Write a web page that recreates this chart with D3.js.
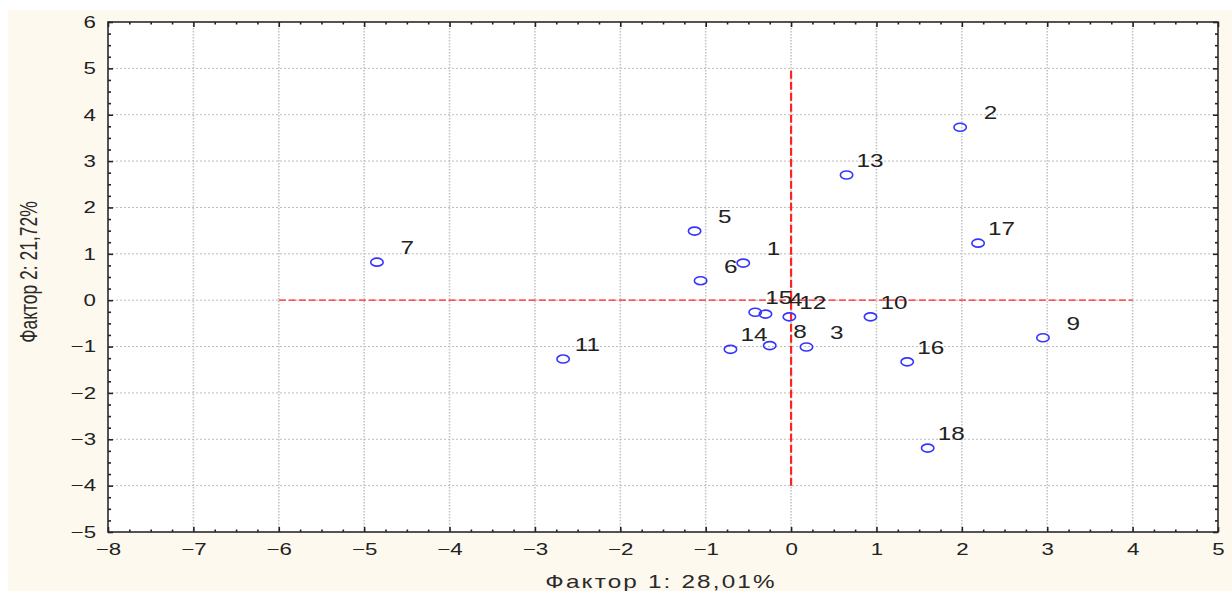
<!DOCTYPE html>
<html>
<head>
<meta charset="utf-8">
<script src="https://cdn.jsdelivr.net/npm/d3@7"></script>
<style>
  html, body { margin: 0; padding: 0; background: #fff; }
  svg { display: block; font-family: "Liberation Sans", Arial, sans-serif; }
</style>
</head>
<body>
<div id="chart"></div>
<script>
// case numbers and their loadings on the two factors
var ids = ['1', '2', '3', '4', '5', '6', '7', '8', '9', '10', '11', '12', '13', '14', '15', '16', '17', '18'];
var factor1 = [-0.56, 1.98, 0.18, -0.30, -1.13, -1.06, -4.85, -0.25, 2.95, 0.93, -2.67, -0.02, 0.65, -0.71, -0.42, 1.36, 2.19, 1.60];
var factor2 = [0.80, 3.73, -1.01, -0.30, 1.49, 0.42, 0.82, -0.98, -0.81, -0.36, -1.27, -0.36, 2.70, -1.06, -0.26, -1.33, 1.23, -3.19];

var xTickValues = [-8, -7, -6, -5, -4, -3, -2, -1, 0, 1, 2, 3, 4, 5];
var yTickValues = [-5, -4, -3, -2, -1, 0, 1, 2, 3, 4, 5, 6];

// red reference cross: horizontal at y=0 over x range, vertical at x=0 over y range
var crossX = [-6, 4];
var crossY = [-4, 5];

var xTitle = 'Фактор 1: 28,01%';
var yTitle = 'Фактор 2: 21,72%';

var W = 1232, H = 591;
// plot box (don't call it "top", that's window.top)
var pl = 108, pr = 1218, pt = 22, pb = 532;
var sx = 1.35; // the original picture is stretched sideways

var svg = d3.select('#chart').append('svg')
  .attr('width', W)
  .attr('height', H);

svg.append('rect')
  .attr('x', 8).attr('y', 10)
  .attr('width', W - 8).attr('height', H - 10)
  .attr('fill', '#fdf9ee');

var x = d3.scaleLinear().domain([-8, 5]).range([pl, pr]);
var y = d3.scaleLinear().domain([-5, 6]).range([pb, pt]);

svg.append('rect')
  .attr('x', pl).attr('y', pt)
  .attr('width', pr - pl).attr('height', pb - pt)
  .attr('fill', '#fff');

// dotted grid
svg.append('g').selectAll('line')
  .data(xTickValues.slice(1, -1))
  .enter().append('line')
  .attr('x1', function(d) { return x(d); })
  .attr('x2', function(d) { return x(d); })
  .attr('y1', pt).attr('y2', pb)
  .attr('stroke', '#c4c4c4')
  .attr('stroke-width', 1.6)
  .attr('stroke-dasharray', '1.5,1.5');

svg.append('g').selectAll('line')
  .data(yTickValues.slice(1, -1))
  .enter().append('line')
  .attr('y1', function(d) { return y(d); })
  .attr('y2', function(d) { return y(d); })
  .attr('x1', pl).attr('x2', pr)
  .attr('stroke', '#bdbdbd')
  .attr('stroke-width', 1)
  .attr('stroke-dasharray', '2,2');

// red cross
svg.append('line')
  .attr('x1', x(crossX[0])).attr('x2', x(crossX[1]))
  .attr('y1', y(0)).attr('y2', y(0))
  .attr('stroke', '#f22')
  .attr('stroke-width', 1.3)
  .attr('stroke-dasharray', '7,3');
svg.append('line')
  .attr('x1', x(0)).attr('x2', x(0))
  .attr('y1', y(crossY[0])).attr('y2', y(crossY[1]))
  .attr('stroke', '#f22')
  .attr('stroke-width', 2.2)
  .attr('stroke-dasharray', '8,3');

// minor ticks every 0.25
var xMinor = d3.range(-8, 5, 0.25).filter(function(d) { return d % 1 !== 0; });
var yMinor = d3.range(-5, 6, 0.25).filter(function(d) { return d % 1 !== 0; });

function frameAxis(axis, t) {
  var g = svg.append('g').attr('transform', t).call(axis);
  g.select('.domain').remove();
  g.selectAll('line').attr('stroke', '#222').attr('stroke-width', 1.6);
  return g;
}

var bx = frameAxis(d3.axisBottom(x).tickValues(xTickValues).tickSizeInner(-5).tickSizeOuter(0).tickPadding(11),
  'translate(0,' + pb + ')');
frameAxis(d3.axisBottom(x).tickValues(xMinor).tickSize(-2.5).tickFormat(''), 'translate(0,' + pb + ')');
frameAxis(d3.axisTop(x).tickValues(xTickValues).tickSize(-5).tickFormat(''), 'translate(0,' + pt + ')');
frameAxis(d3.axisTop(x).tickValues(xMinor).tickSize(-2.5).tickFormat(''), 'translate(0,' + pt + ')');

var ly = frameAxis(d3.axisLeft(y).tickValues(yTickValues).tickSizeInner(-5).tickSizeOuter(0).tickPadding(12),
  'translate(' + pl + ',0)');
frameAxis(d3.axisLeft(y).tickValues(yMinor).tickSize(-3).tickFormat(''), 'translate(' + pl + ',0)');
frameAxis(d3.axisRight(y).tickValues(yTickValues).tickSize(-5).tickFormat(''), 'translate(' + pr + ',0)');
frameAxis(d3.axisRight(y).tickValues(yMinor).tickSize(-3).tickFormat(''), 'translate(' + pr + ',0)');

[bx, ly].forEach(function(g) {
  g.selectAll('text')
    .attr('font-size', 16.5)
    .attr('fill', '#222')
    .attr('font-family', '"Liberation Sans", Arial, sans-serif')
    .attr('transform', 'scale(' + sx + ',1)');
});
ly.selectAll('text').attr('x', -12 / sx);

// frame
svg.append('rect')
  .attr('x', pl).attr('y', pt)
  .attr('width', pr - pl).attr('height', pb - pt)
  .attr('fill', 'none')
  .attr('stroke', '#2a2a2a')
  .attr('stroke-width', 1.6);

// points
var pts = ids.map(function(id, i) { return {id: id, f1: factor1[i], f2: factor2[i]}; });

svg.append('g').selectAll('ellipse')
  .data(pts)
  .enter().append('ellipse')
  .attr('cx', function(d) { return x(d.f1); })
  .attr('cy', function(d) { return y(d.f2); })
  .attr('rx', 6.2)
  .attr('ry', 4)
  .attr('fill', 'none')
  .attr('stroke', '#3535ff')
  .attr('stroke-width', 1.6);

svg.append('g').selectAll('text')
  .data(pts)
  .enter().append('text')
  .attr('transform', function(d) {
    return 'translate(' + (x(d.f1) + 37) + ',' + (y(d.f2) - 8) + ') scale(' + sx + ',1)';
  })
  .attr('text-anchor', 'end')
  .attr('font-size', 18)
  .attr('fill', '#222')
  .text(function(d) { return d.id; });

// axis titles
svg.append('text')
  .attr('transform', 'translate(' + ((pl + pr) / 2 - 2) + ',588) scale(' + sx + ',1)')
  .attr('text-anchor', 'middle')
  .attr('font-size', 18)
  .attr('letter-spacing', 1.6)
  .attr('fill', '#2a2a2a')
  .text(xTitle);

svg.append('text')
  .attr('transform', 'translate(37,272) scale(' + sx + ',1) rotate(-90)')
  .attr('text-anchor', 'middle')
  .attr('font-size', 17.5)
  .attr('fill', '#2a2a2a')
  .text(yTitle);
</script>
</body>
</html>
